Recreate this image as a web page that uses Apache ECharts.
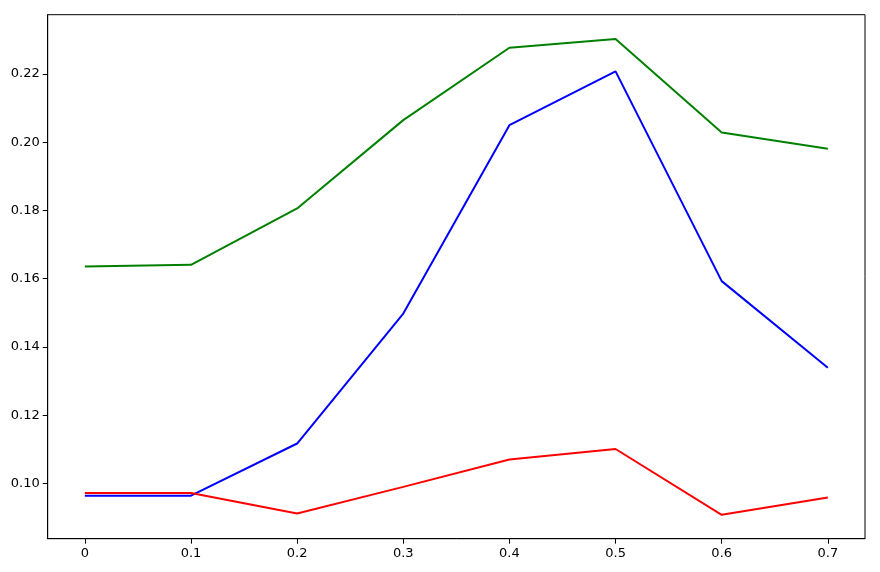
<!DOCTYPE html>
<html>
<head>
<meta charset="utf-8">
<script src="https://cdn.jsdelivr.net/npm/echarts@6/dist/echarts.min.js"></script>
<style>
html,body{margin:0;padding:0;background:#fff;}
#chart{width:880px;height:572px;}
</style>
</head>
<body>
<div id="chart"></div>
<script>
const xValues = [0, 0.1, 0.2, 0.3, 0.4, 0.5, 0.6, 0.7];
const greenValues = [0.1636, 0.1641, 0.1806, 0.2065, 0.2277, 0.2303, 0.2029, 0.1981];
const blueValues = [0.0964, 0.0964, 0.1117, 0.1498, 0.2050, 0.2208, 0.1593, 0.1339];
const redValues = [0.0972, 0.0972, 0.0912, 0.0990, 0.1070, 0.1101, 0.0908, 0.0959];
const xTicks = [0, 0.1, 0.2, 0.3, 0.4, 0.5, 0.6, 0.7];
const yTicks = [0.10, 0.12, 0.14, 0.16, 0.18, 0.20, 0.22];

function pairs(ys) { return xValues.map((x, i) => [x, ys[i]]); }

const chart = echarts.init(document.getElementById('chart'));
const font = { fontFamily: 'DejaVu Sans', fontSize: 13, color: '#000' };
chart.setOption({
  animation: false,
  grid: { left: 47.7, right: 15, top: 14.7, bottom: 33.3, show: true, borderColor: '#000', borderWidth: 1, backgroundColor: 'transparent' },
  xAxis: {
    type: 'value', min: -0.035, max: 0.735,
    axisLine: { show: true, onZero: false, lineStyle: { color: '#000', width: 1 } },
    axisTick: { show: true, customValues: xTicks, length: 5, lineStyle: { color: '#000' } },
    axisLabel: { ...font, customValues: xTicks, margin: 8, formatter: v => (Math.abs(v) < 1e-9 ? '0' : (+v).toFixed(1)) },
    splitLine: { show: false }
  },
  yAxis: {
    type: 'value', min: 0.0838, max: 0.2374,
    axisLine: { show: true, onZero: false, lineStyle: { color: '#000', width: 1 } },
    axisTick: { show: true, customValues: yTicks, length: 5, lineStyle: { color: '#000' } },
    axisLabel: { ...font, customValues: yTicks, margin: 8, formatter: v => (+v).toFixed(2) },
    splitLine: { show: false }
  },
  series: [
    { type: 'line', data: pairs(greenValues), symbol: 'none', lineStyle: { color: '#008000', width: 2 }, itemStyle: { color: '#008000' } },
    { type: 'line', data: pairs(blueValues), symbol: 'none', lineStyle: { color: '#0000ff', width: 2 }, itemStyle: { color: '#0000ff' } },
    { type: 'line', data: pairs(redValues), symbol: 'none', lineStyle: { color: '#ff0000', width: 2 }, itemStyle: { color: '#ff0000' } }
  ]
});
</script>
</body>
</html>
